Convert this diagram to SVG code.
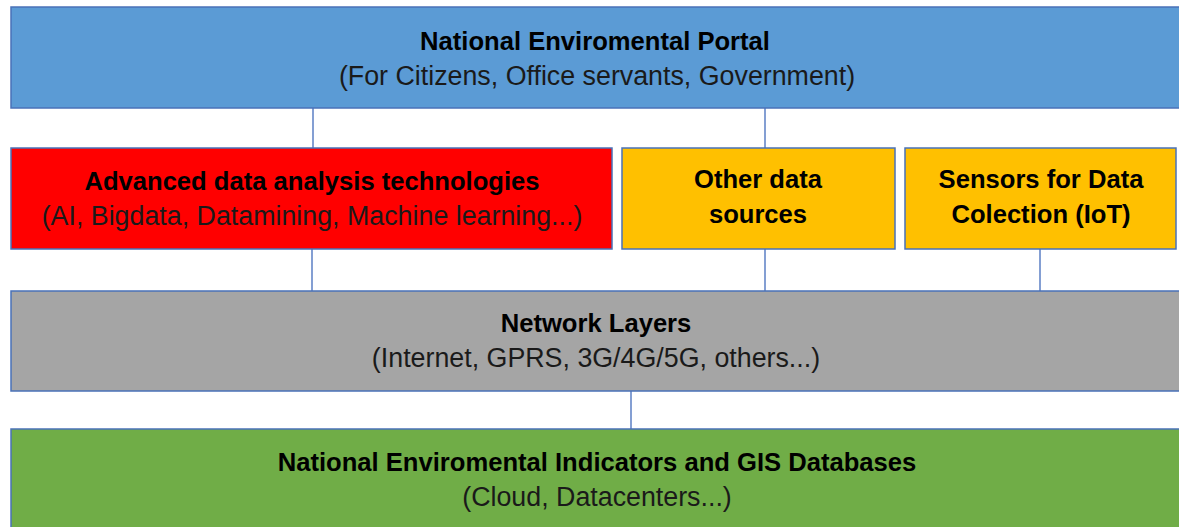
<svg xmlns="http://www.w3.org/2000/svg" width="1179" height="527" viewBox="0 0 1179 527">
<style>
.box{stroke:#4A72B8;stroke-width:1.5}
.t{font-family:"Liberation Sans",Arial,sans-serif;font-size:26.8px;text-anchor:middle;fill:#000}
.b{font-weight:bold;font-size:25.6px}
.s{fill:#1a1a1a}
.c{stroke:#5B7FC4;stroke-width:1.5;fill:none}
</style>
<rect width="1179" height="527" fill="#fff"/>
<g id="connectors">
<line class="c" x1="313" y1="108" x2="313" y2="148"/>
<line class="c" x1="765" y1="108" x2="765" y2="148"/>
<line class="c" x1="312" y1="249" x2="312" y2="291"/>
<line class="c" x1="765" y1="249" x2="765" y2="291"/>
<line class="c" x1="1040" y1="249" x2="1040" y2="291"/>
<line class="c" x1="631" y1="391" x2="631" y2="429"/>
</g>
<g id="portal">
<rect class="box" x="11" y="7" width="1175" height="101" fill="#5B9BD5"/>
<text class="t b" x="595" y="50">National Enviromental Portal</text>
<text class="t s" x="597" y="85">(For Citizens, Office servants, Government)</text>
</g>
<g id="advanced">
<rect class="box" x="11" y="148" width="601" height="101" fill="#FF0000"/>
<text class="t b" x="312" y="190">Advanced data analysis technologies</text>
<text class="t s" x="312" y="225">(AI, Bigdata, Datamining, Machine learning...)</text>
</g>
<g id="other">
<rect class="box" x="622" y="148" width="273" height="101" fill="#FFC000"/>
<text class="t b" x="758" y="188">Other data</text>
<text class="t b" x="758" y="223">sources</text>
</g>
<g id="sensors">
<rect class="box" x="905" y="148" width="271" height="101" fill="#FFC000"/>
<text class="t b" x="1041" y="188">Sensors for Data</text>
<text class="t b" x="1041" y="223">Colection (IoT)</text>
</g>
<g id="network">
<rect class="box" x="11" y="291" width="1175" height="100" fill="#A5A5A5"/>
<text class="t b" x="596" y="332">Network Layers</text>
<text class="t s" x="596" y="367">(Internet, GPRS, 3G/4G/5G, others...)</text>
</g>
<g id="databases">
<rect class="box" x="11" y="429" width="1175" height="110" fill="#70AD47"/>
<text class="t b" x="597" y="471">National Enviromental Indicators and GIS Databases</text>
<text class="t s" x="597" y="506">(Cloud, Datacenters...)</text>
</g>
</svg>
